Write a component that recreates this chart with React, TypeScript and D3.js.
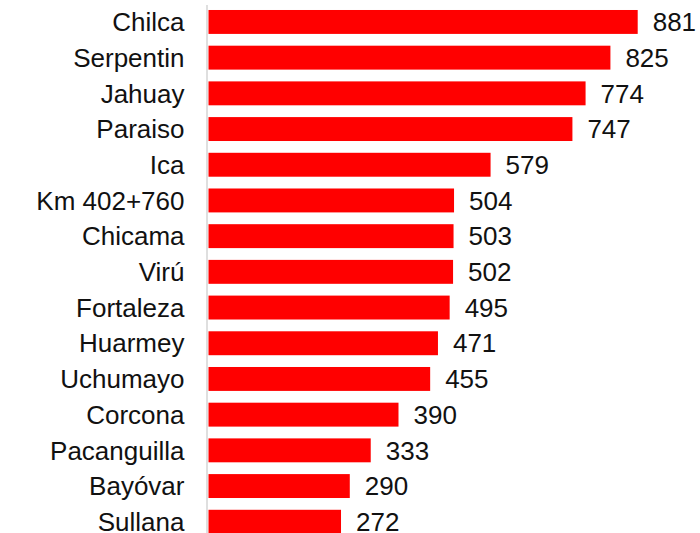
import React from "react";
import * as d3 from "d3";

const categories = [
  "Chilca", "Serpentin", "Jahuay", "Paraiso", "Ica", "Km 402+760", "Chicama",
  "Virú", "Fortaleza", "Huarmey", "Uchumayo", "Corcona", "Pacanguilla", "Bayóvar", "Sullana",
];
const values = [881, 825, 774, 747, 579, 504, 503, 502, 495, 471, 455, 390, 333, 290, 272];

const W = 700;
const H = 533;
const FONT = 26;

export default function App() {
  const x = d3.scaleLinear().domain([0, 881]).range([208.5, 637.7]);
  const y = d3
    .scaleBand<string>()
    .domain(categories)
    .range([4.1, 4.1 + 15 * 35.7])
    .paddingInner(0.33)
    .paddingOuter(0.165);
  const bw = y.bandwidth();
  return (
    <svg
      width={W}
      height={H}
      style={{ position: "absolute", left: 0, top: 0, background: "#fff" }}
      fontFamily="'Liberation Sans', Arial, sans-serif"
    >
      <line x1={207} x2={207} y1={5} y2={H} stroke="#d4d4d4" strokeWidth={1.5} />
      {categories.map((c, i) => {
        const cy = (y(c) as number) + bw / 2;
        return (
          <g key={c}>
            <rect x={x(0)} y={y(c)} width={x(values[i]) - x(0)} height={bw} fill="#ff0000" />
            <text x={184.5} y={cy + FONT * 0.355} textAnchor="end" fontSize={FONT} fill="#111">
              {c}
            </text>
            <text x={x(values[i]) + 15} y={cy + FONT * 0.355} fontSize={FONT} fill="#111">
              {values[i]}
            </text>
          </g>
        );
      })}
    </svg>
  );
}
